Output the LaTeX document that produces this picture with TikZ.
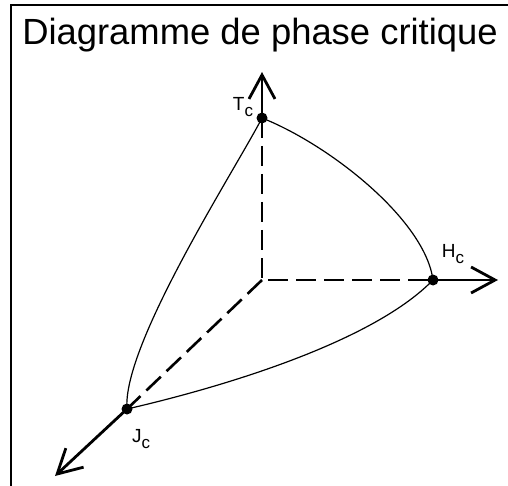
\documentclass[tikz,border=0pt]{standalone}
\usepackage{fontspec}
\setmainfont{Liberation Sans}
\usetikzlibrary{positioning,arrows.meta}
\newcommand{\critlab}[1]{#1\raisebox{-2.8pt}{\fontsize{8.5}{9}\selectfont c}}

\begin{document}
\begin{tikzpicture}[x=0.5pt,y=-0.5pt,>={Straight Barb[length=12pt,width=13pt]},
  axis/.style={line width=1.4pt},
  hidden/.style={line width=1.3pt,dash pattern=on 10pt off 4pt},
  crit/.style={circle,fill,inner sep=0pt,minimum size=5.5pt},
  lab/.style={font=\fontsize{9.5}{11}\selectfont},
  edge/.style={line width=0.6pt}]
\useasboundingbox (0,0) rectangle (508,486);
\draw[line width=1pt] (11,486) -- (11,5) -- (508,5);
\node (title) [anchor=base,font=\fontsize{18.2}{22}\selectfont] at (260,45) {Diagramme de phase critique};
% origin and axis ends
\coordinate (o) at (262,280);
\coordinate (tend) at (262,72);
\coordinate (hend) at (498,280);
\coordinate (jend) at (55,476);
% critical points
\node (tc) [crit] at (262,118) {};
\node (hc) [crit] at (433,280) {};
\node (jc) [crit] at (127,409) {};
\node (tlab) [lab] at (243,107) {\critlab{T}};
\node (hlab) [lab] at (453,254) {\critlab{H}};
\node (jlab) [lab] at (141,439) {\critlab{J}};
% axes
\draw[hidden] (tc.center) -- (o) -- (hc.center);
\draw[hidden] (o) -- (jc.center);
\draw[axis,->] (tc.center) -- (tend);
\draw[axis,->] (hc.center) -- (hend);
\draw[axis,->] (jc.center) -- (jend);
% phase boundary
\draw[edge] (tc.center) .. controls (235,170) and (122,345) .. (jc.center);
\draw[edge] (tc.center) .. controls (330,145) and (425,220) .. (hc.center);
\draw[edge] (jc.center) .. controls (210,390) and (370,345) .. (hc.center);
\end{tikzpicture}
\end{document}
